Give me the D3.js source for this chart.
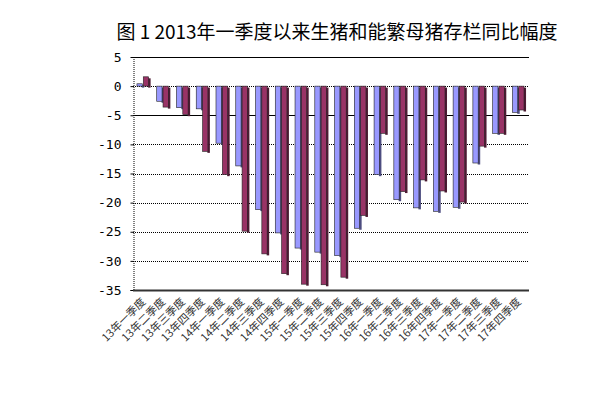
<!DOCTYPE html>
<html><head><meta charset="utf-8">
<script src="https://cdn.jsdelivr.net/npm/d3@7"></script>
<style>body{margin:0;background:#fff}svg{display:block}</style>
</head><body>
<svg id="c" width="597" height="397"></svg>
<script>
const title = "图 1 2013年一季度以来生猪和能繁母猪存栏同比幅度";
const categories = ["13年一季度","13年二季度","13年三季度","13年四季度","14年一季度","14年二季度","14年三季度","14年四季度","15年一季度","15年二季度","15年三季度","15年四季度","16年一季度","16年二季度","16年三季度","16年四季度","17年一季度","17年二季度","17年三季度","17年四季度"];
const seriesNames = ["生猪存栏同比","能繁母猪存栏同比"];
const hogs = [0.4,-2.6,-3.7,-3.9,-9.8,-13.7,-21.2,-25.2,-27.8,-28.5,-29.1,-24.4,-15.2,-19.5,-20.9,-21.5,-20.8,-13.2,-8.1,-4.5];
const sows = [1.6,-3.6,-4.9,-11.2,-15.2,-24.9,-28.8,-32.2,-34.0,-34.1,-32.8,-22.2,-8.1,-18.1,-16.1,-18.0,-19.9,-10.3,-8.1,-4.1];
const yTicks = [5,0,-5,-10,-15,-20,-25,-30,-35];
const colors = ["#9999FF","#993366"];
const sideColors = ["#4d4d80","#4d1a33"];

const svg = d3.select("#c");
const L=133, R=529, T=57, B=290;
const x0 = d3.scaleBand().domain(categories).range([L,R]).paddingInner(0.36).paddingOuter(0.2);
const x1 = d3.scaleBand().domain([0,1]).range([0,x0.bandwidth()]);
const y = d3.scaleLinear().domain([-35,5]).range([B,T]);

svg.append("text").attr("x",337).attr("y",39).attr("text-anchor","middle")
  .style("font-family","'Noto Sans CJK SC'").style("font-size","19px").attr("fill","#000").text(title);

// gridlines
svg.append("g").selectAll("line").data(yTicks.filter(d=>d!==-35)).join("line")
  .attr("x1",L).attr("x2",R).attr("y1",d=>Math.round(y(d))+0.5).attr("y2",d=>Math.round(y(d))+0.5)
  .attr("stroke","#000").attr("stroke-width",1)
  .attr("stroke-dasharray",d=>(d===5||d===-5)?null:"1,1");

// y axis
const yAxis = d3.axisLeft(y).tickValues(yTicks).tickSize(3).tickFormat(d=>String(d));
const gy = svg.append("g").attr("transform",`translate(${L+0.5},0)`).call(yAxis);
gy.select(".domain").attr("stroke","#000").attr("stroke-dasharray","1,1");
gy.selectAll(".tick line").attr("stroke","#000");
gy.selectAll(".tick text").attr("x",-12)
  .style("font-family","'DejaVu Sans Mono','Liberation Mono'").style("font-size","13px").attr("fill","#000");

// bars
const data = categories.map((c,i)=>({c, v:[hogs[i],sows[i]]}));
const groups = svg.append("g").selectAll("g").data(data).join("g")
  .attr("transform",d=>`translate(${x0(d.c)},0)`);
[0,1].forEach(s=>{
  groups.append("rect")
    .attr("x",x1(s)+x1.bandwidth()-1.5).attr("width",2.5)
    .attr("y",d=>Math.min(y(d.v[s]),y(0))+1.5)
    .attr("height",d=>Math.abs(y(d.v[s])-y(0)))
    .attr("fill",sideColors[s]);
  groups.append("rect")
    .attr("x",x1(s)).attr("width",x1.bandwidth()-1)
    .attr("y",d=>Math.min(y(d.v[s]),y(0)))
    .attr("height",d=>Math.abs(y(d.v[s])-y(0)))
    .attr("fill",colors[s]).attr("stroke","#222").attr("stroke-width",0.6);
});

// x axis
const gx = svg.append("g").attr("transform",`translate(0,${B+0.5})`);
gx.append("line").attr("x1",L).attr("x2",R).attr("stroke","#333").attr("stroke-width",2);
gx.selectAll("text").data(categories).join("text")
  .attr("transform",d=>`translate(${x0(d)+x0.bandwidth()/2+3},${12}) rotate(-45)`)
  .attr("text-anchor","end").style("font-family","'Noto Sans CJK SC'").style("font-size","11px")
  .attr("fill","#333").text(d=>d);
</script>
</body></html>
